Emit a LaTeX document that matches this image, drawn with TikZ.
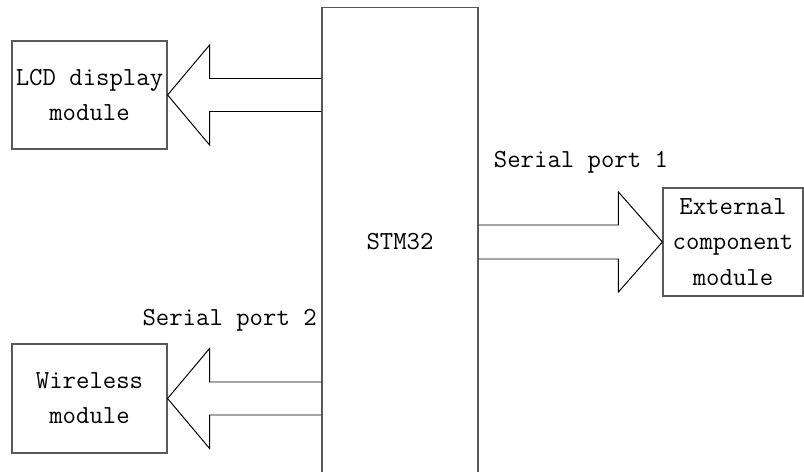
\documentclass[tikz,border=0pt]{standalone}
\usepackage{fontspec}
\usetikzlibrary{calc}
\tikzset{
  txt/.style={font=\fontsize{18.5}{25}\selectfont\ttfamily, inner sep=0pt},
  modbox/.style={draw=black!65, line width=0.8pt, align=center},
  busarrow/.style={draw=black, line width=0.7pt}
}
\begin{document}
\begin{tikzpicture}[x=0.025cm, y=-0.025cm, every node/.style={txt}]
  \useasboundingbox (0,0) rectangle (804,472);
  %% Controller
  \node[modbox, minimum width=3.9cm, minimum height=11.7cm] (stm) at (400,242) {STM32};
  %% Modules
  \node[modbox, minimum width=3.875cm, minimum height=2.7cm] (lcd) at (89.5,95) {LCD display\\module};
  \node[modbox, minimum width=3.875cm, minimum height=2.725cm] (wl) at (89.5,398.5) {Wireless\\module};
  \node[modbox, minimum width=3.5cm, minimum height=2.7cm] (ext) at (733,242) {External\\component\\module};
  %% Bus arrows, STM32 -> left modules
  \foreach \m in {lcd,wl}{
    \coordinate (\m-hi) at ($(\m.east)+(42,-16.5)$);
    \coordinate (\m-lo) at ($(\m.east)+(42,16.5)$);
    \draw[busarrow] (stm.west |- \m-hi) -- (\m-hi) -- ++(0,-33.5) -- (\m.east)
      -- ++(42,50) -- (\m-lo) -- (stm.west |- \m-lo);
  }
  %% Bus arrow, STM32 -> external module
  \coordinate (ext-hi) at ($(ext.west)+(-44,-17)$);
  \coordinate (ext-lo) at ($(ext.west)+(-44,17)$);
  \draw[busarrow] (stm.east |- ext-hi) -- (ext-hi) -- ++(0,-33) -- (ext.west)
    -- ++(-44,50) -- (ext-lo) -- (stm.east |- ext-lo);
  %% Port labels
  \node (sp1) at (581,162) {Serial port 1};
  \node[anchor=east] (sp2) at (317,320) {Serial port 2};
\end{tikzpicture}
\end{document}
